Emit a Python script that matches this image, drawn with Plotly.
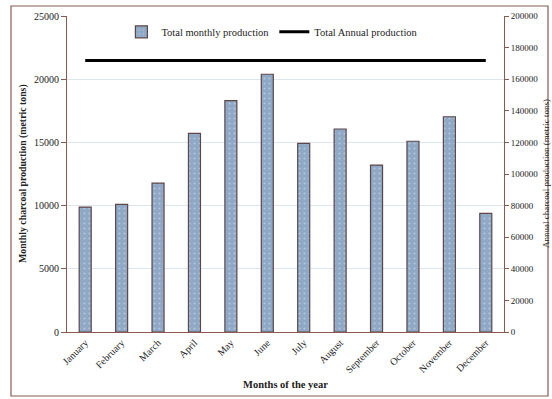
import plotly.graph_objects as go

months = ["January", "February", "March", "April", "May", "June", "July",
          "August", "September", "October", "November", "December"]
monthly = [9880, 10090, 11780, 15720, 18300, 20390, 14930, 16060, 13210, 15090, 17030, 9390]
annual_total = 171800
left_ticks = [0, 5000, 10000, 15000, 20000, 25000]
right_ticks = [0, 20000, 40000, 60000, 80000, 100000, 120000, 140000, 160000, 180000, 200000]

FONT = "Liberation Serif"
BROWN = "#8a5a4e"
L, R, T, B = 67, 48, 16, 67
PW, PH = 552 - L - R, 399 - T - B

fig = go.Figure()
fig.add_trace(go.Bar(
    x=months, y=monthly, name="Total monthly production", width=0.33,
    marker=dict(color="#8ea8c6", line=dict(color="#5e4646", width=1.2),
                pattern=dict(shape=".", fgcolor="#d8e2ee", bgcolor="#8ea8c6", size=5, solidity=0.15)),
))
fig.add_trace(go.Scatter(
    x=[months[0], months[-1]], y=[annual_total, annual_total], yaxis="y2",
    mode="lines", name="Total Annual production", line=dict(color="black", width=3),
))

fig.update_layout(
    width=552, height=399,
    margin=dict(l=L, r=R, t=T, b=B),
    paper_bgcolor="white", plot_bgcolor="white",
    font=dict(family=FONT, size=10, color="#222"),
    showlegend=True,
    legend=dict(orientation="h", x=0.47, xanchor="center", y=0.95, yanchor="middle",
                font=dict(family=FONT, size=10.5), bgcolor="rgba(0,0,0,0)", itemwidth=30),
    xaxis=dict(
        tickangle=-45, tickfont=dict(family=FONT, size=10), automargin=False,
        showline=True, linecolor=BROWN, linewidth=1, ticks="", showgrid=False,
        title=dict(text="<b>Months of the year</b>", font=dict(family=FONT, size=10.5), standoff=6),
    ),
    yaxis=dict(
        range=[0, 25000], tickvals=left_ticks, ticktext=[str(v) for v in left_ticks],
        ticks="outside", ticklen=5, tickcolor=BROWN, automargin=False,
        showline=True, linecolor=BROWN, linewidth=1, showgrid=True, gridcolor="#dde5ee",
        zeroline=False, tickfont=dict(family=FONT, size=10),
    ),
    yaxis2=dict(
        range=[0, 200000], tickvals=right_ticks, ticktext=[str(v) for v in right_ticks],
        overlaying="y", side="right", automargin=False,
        ticks="outside", ticklen=4, tickcolor=BROWN,
        showline=True, linecolor=BROWN, linewidth=1, showgrid=False, zeroline=False,
        tickfont=dict(family=FONT, size=9),
    ),
    annotations=[
        dict(text="<b>Monthly charcoal production (metric tons)</b>", xref="paper", yref="paper",
             x=(23 - L) / PW, y=0.5, textangle=-90, showarrow=False,
             font=dict(family=FONT, size=9.8), xanchor="center", yanchor="middle"),
        dict(text="Annual charcoal production (metric tons)", xref="paper", yref="paper",
             x=(546 - L) / PW, y=0.5, textangle=-90, showarrow=False,
             font=dict(family=FONT, size=9), xanchor="center", yanchor="middle"),
    ],
    shapes=[dict(type="rect", xref="paper", yref="paper",
                 x0=(11 - L) / PW, x1=(548 - L) / PW,
                 y0=(399 - B - 396) / PH, y1=(399 - B - 6) / PH,
                 line=dict(color=BROWN, width=1.2), fillcolor="rgba(0,0,0,0)", layer="below")],
)

fig.write_html("out.html")
